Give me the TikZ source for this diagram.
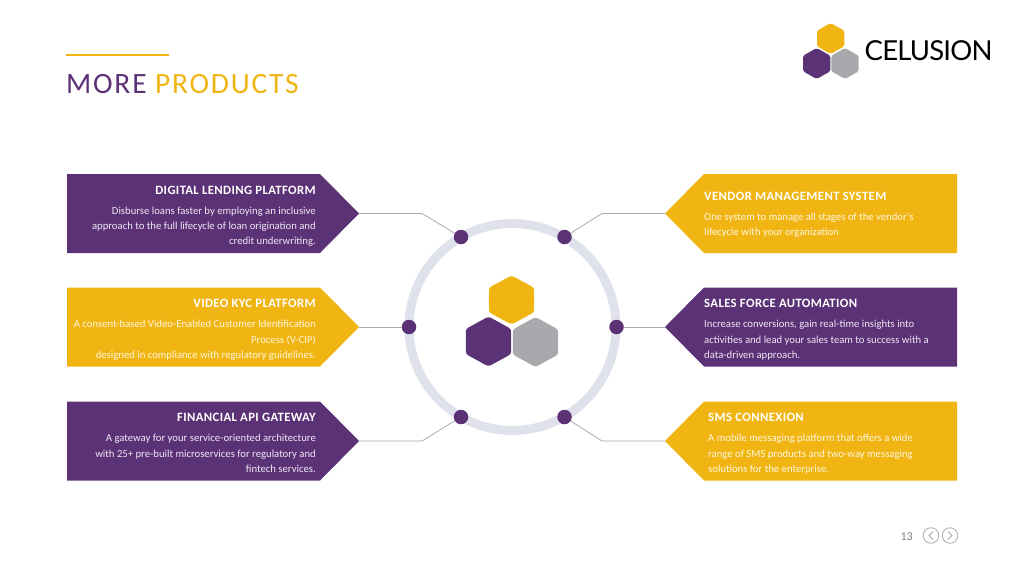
\documentclass[tikz,border=0pt]{standalone}
\usepackage{fontspec}
\setmainfont{Carlito}
\newfontfamily\logofont[LetterSpace=-3]{Lato}
\definecolor{pur}{HTML}{5C3277}
\definecolor{yel}{HTML}{F0B513}
\definecolor{gry}{HTML}{A7A9AC}
\definecolor{ringc}{HTML}{DFE2EA}
\definecolor{linec}{HTML}{ABABB0}
\definecolor{lav}{HTML}{EFE8F4}
\definecolor{crm}{HTML}{FFF6DC}
\newcommand{\hexa}[5]{% x y halfwidth halfheight colour
  \fill[#5,rounded corners=#3*0.12pt] (#1,#2-#4) -- (#1+#3,#2-#4/2) -- (#1+#3,#2+#4/2) -- (#1,#2+#4) -- (#1-#3,#2+#4/2) -- (#1-#3,#2-#4/2) -- cycle;}
\newcommand{\leftbox}[2]{%
  \fill[#2] (67,#1-39.5) -- (320,#1-39.5) -- (359,#1) -- (320,#1+39.5) -- (67,#1+39.5) -- cycle;}
\newcommand{\rightbox}[2]{%
  \fill[#2] (957,#1-39.5) -- (704,#1-39.5) -- (665,#1) -- (704,#1+39.5) -- (957,#1+39.5) -- cycle;}
\tikzset{
  head/.style={font=\fontsize{12.7}{14}\selectfont\bfseries\addfontfeature{LetterSpace=3},text=white,inner sep=0pt},
  bodyl/.style={font=\fontsize{10.7}{15.4}\selectfont,text=#1,inner sep=0pt,align=right,anchor=north east},
  bodyr/.style={font=\fontsize{10.7}{15.4}\selectfont,text=#1,inner sep=0pt,align=left,anchor=north west},
  dot/.style={circle,fill=pur,minimum size=14.5pt,inner sep=0pt},
  conn/.style={draw=linec,line width=0.8pt},
}
\begin{document}
\begin{tikzpicture}[x=1pt,y=-1pt]
\useasboundingbox (0,0) rectangle (1024,576);
% title
\coordinate (ruleA) at (66,55); \coordinate (ruleB) at (169,55);
\draw[yel,line width=2pt] (ruleA) -- (ruleB);
\node[anchor=base west,inner sep=0pt,font=\fontsize{29.5}{31}\selectfont] (title) at (66,93) {\addfontfeature{LetterSpace=6}\textcolor{pur}{MORE} \textcolor{yel}{PRODUCTS}};
% logo
\hexa{830.7}{38.5}{13.7}{15.5}{yel}
\hexa{816.7}{63.5}{13.7}{15.5}{pur}
\hexa{845}{63.5}{13.7}{15.5}{gry}
\node[anchor=base west,inner sep=0pt,font=\logofont\fontsize{27.5}{30}\selectfont,text=black] (logo) at (864.5,60.5) {CELUSION};
% boxes
\leftbox{213.5}{pur}
\leftbox{327}{yel}
\leftbox{441}{pur}
\rightbox{213.5}{yel}
\rightbox{327}{pur}
\rightbox{441}{yel}
% ring
\node[circle,draw=ringc,line width=9pt,minimum size=207pt,inner sep=0pt] (ring) at (512.5,327) {};
% center hexagons
\hexa{511.5}{300}{22.7}{24.5}{yel}
\hexa{488.5}{341.5}{22.7}{25}{pur}
\hexa{535.5}{342}{22.7}{25}{gry}
% dots
\node[dot] (d1) at (461,237) {};
\node[dot] (d2) at (409,327) {};
\node[dot] (d3) at (461,417) {};
\node[dot] (d4) at (564.5,237) {};
\node[dot] (d5) at (616.5,327) {};
\node[dot] (d6) at (564.5,417) {};
% connector ends
\coordinate (t1) at (359,213.5); \coordinate (b1) at (422,213.5);
\coordinate (t2) at (359,327);
\coordinate (t3) at (359,441); \coordinate (b3) at (422,441);
\coordinate (t4) at (665,213.5); \coordinate (b4) at (602,213.5);
\coordinate (t5) at (665,327);
\coordinate (t6) at (665,441); \coordinate (b6) at (602,441);
\draw[conn] (t1) -- (b1) -- (d1);
\draw[conn] (t2) -- (d2);
\draw[conn] (t3) -- (b3) -- (d3);
\draw[conn] (t4) -- (b4) -- (d4);
\draw[conn] (t5) -- (d5);
\draw[conn] (t6) -- (b6) -- (d6);
% left texts
\node[head,anchor=base east] (h1) at (316,194) {DIGITAL LENDING PLATFORM};
\node[bodyl=lav] (p1) at (316,206.5) {Disburse loans faster by employing an inclusive\\approach to the full lifecycle of loan origination and\\credit underwriting.};
\node[head,anchor=base east] (h2) at (316,307.5) {VIDEO KYC PLATFORM};
\node[bodyl=crm] (p2) at (316,320) {A consent-based Video-Enabled Customer Identification\\Process (V-CIP)\\designed in compliance with regulatory guidelines.};
\node[head,anchor=base east] (h3) at (316,421.5) {FINANCIAL API GATEWAY};
\node[bodyl=lav] (p3) at (316,434) {A gateway for your service-oriented architecture\\with 25+ pre-built microservices for regulatory and\\fintech services.};
% right texts
\node[head,anchor=base west] (h4) at (704,200) {VENDOR MANAGEMENT SYSTEM};
\node[bodyr=crm] (p4) at (704,212.5) {One system to manage all stages of the vendor's\\lifecycle with your organization};
\node[head,anchor=base west] (h5) at (704,307.5) {SALES FORCE AUTOMATION};
\node[bodyr=lav] (p5) at (704,320) {Increase conversions, gain real-time insights into\\activities and lead your sales team to success with a\\data-driven approach.};
\node[head,anchor=base west] (h6) at (708,421.5) {SMS CONNEXION};
\node[bodyr=crm] (p6) at (708,434) {A mobile messaging platform that offers a wide\\range of SMS products and two-way messaging\\solutions for the enterprise.};
% footer
\node[anchor=base east,inner sep=0pt,font=\fontsize{12}{14}\selectfont,text=gray] (pg) at (913,540) {13};
\node[circle,draw=gry,line width=0.8pt,minimum size=15.5pt,inner sep=0pt] (prev) at (931,535.5) {};
\node[circle,draw=gry,line width=0.8pt,minimum size=15.5pt,inner sep=0pt] (next) at (950,535.5) {};
\draw[gry,line width=1pt] ([xshift=2pt,yshift=4pt]prev.center) -- ([xshift=-2pt]prev.center) -- ([xshift=2pt,yshift=-4pt]prev.center);
\draw[gry,line width=1pt] ([xshift=-2pt,yshift=4pt]next.center) -- ([xshift=2pt]next.center) -- ([xshift=-2pt,yshift=-4pt]next.center);
\end{tikzpicture}
\end{document}
